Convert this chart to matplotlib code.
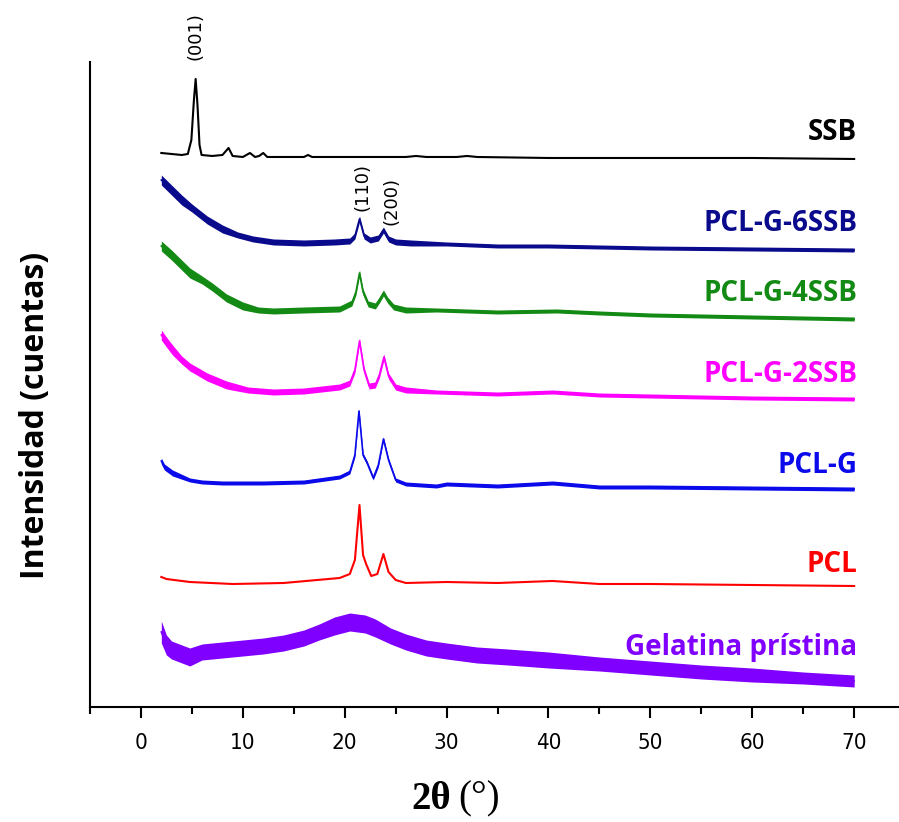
import matplotlib
matplotlib.use("Agg")
import matplotlib.pyplot as plt
from matplotlib.ticker import MultipleLocator

# ── data (2θ in °, intensity in arbitrary counts, stacked) ──
ssb_t = [2.0, 3.0, 4.0, 4.6, 4.95, 5.2, 5.37, 5.55, 5.75, 5.95, 7.0, 8.0, 8.6, 9.0,
         10.0, 10.7, 11.2, 11.6, 12.0, 12.4, 14.0, 16.0, 16.4, 16.8, 20.0, 23.0,
         26.0, 27.0, 28.0, 31.0, 32.0, 33.0, 40.0, 50.0, 60.0, 70.0]
ssb_i = [554, 553, 552, 553, 567, 607, 628, 602, 562, 552, 551, 552, 559, 551,
         550, 554, 550, 551, 554, 550, 550, 550, 552, 550, 550, 550,
         550, 551, 550, 550, 551, 550, 549, 549, 549, 548]

g6_t = [2.0, 2.5, 3.0, 4.0, 5.0, 6.5, 8.0, 9.5, 11.0, 13.0, 16.0, 19.0, 20.5, 21.0,
        21.45, 21.9, 22.5, 23.3, 23.8, 24.3, 25.0, 26.5, 30.0, 35.0, 40.0, 50.0,
        60.0, 70.0]
g6_i = [527, 522, 517, 507, 499, 487, 478, 472, 468, 465, 464, 465, 466, 471,
        488, 471, 467, 469, 477, 468, 465, 464, 463, 461, 461, 459,
        458, 457]
g6_n = [5, 5, 5, 5, 4, 4, 4, 3, 3, 3, 3, 3, 3, 3,
        3, 3, 3, 3, 3, 3, 3, 3, 2, 2, 2, 2, 2, 2]

g4_t = [2.0, 3.0, 4.0, 4.8, 6.0, 7.0, 8.4, 10.0, 11.5, 13.0, 16.0, 19.5, 20.7, 21.1,
        21.45, 21.8, 22.3, 23.0, 23.4, 23.8, 24.2, 24.8, 26.0, 29.0, 35.0, 40.8,
        45.0, 50.0, 60.0, 70.0]
g4_i = [461, 452, 442, 434, 427, 420, 409, 401, 397, 396, 397, 398, 404, 415,
        434, 415, 403, 401, 407, 414, 407, 400, 397, 397, 395, 396,
        394, 392, 390, 388]
g4_n = [5, 5, 5, 5, 4, 4, 4, 4, 3, 3, 3, 3, 3, 3,
        3, 3, 3, 3, 3, 3, 3, 3, 3, 2, 2, 2, 2, 2, 2, 2]

g2_t = [2.0, 2.5, 3.1, 4.0, 4.8, 6.5, 8.4, 10.5, 13.0, 16.0, 19.5, 20.5, 21.0, 21.45,
        21.9, 22.4, 23.0, 23.4, 23.85, 24.3, 25.0, 26.0, 29.0, 35.0, 40.4, 45.0,
        50.0, 60.0, 70.0]
g2_i = [372, 365, 357, 347, 340, 330, 322, 317, 315, 316, 320, 324, 337, 366,
        337, 321, 322, 332, 350, 331, 320, 317, 315, 313, 315, 312,
        311, 309, 308]
g2_n = [5, 5, 5, 4, 4, 4, 4, 3, 3, 3, 3, 3, 3, 3,
        3, 3, 3, 3, 3, 3, 3, 3, 2, 2, 2, 2, 2, 2, 2]

pg_t = [2.0, 2.3, 3.1, 4.8, 6.0, 8.0, 12.0, 16.0, 19.5, 20.5, 21.0, 21.4, 21.8, 22.2,
        22.8, 23.3, 23.8, 24.3, 25.0, 26.0, 29.0, 30.0, 35.0, 40.4, 45.0, 50.0,
        60.0, 70.0]
pg_i = [246, 240, 234, 227, 225, 224, 224, 225, 230, 235, 252, 296, 252, 244,
        229, 242, 268, 247, 227, 223, 221, 223, 221, 224, 220, 220,
        219, 218]
pg_n = [3, 3, 3, 2, 2, 2, 2, 2, 2, 2, 2, 2, 2, 2,
        2, 2, 2, 2, 2, 2, 2, 2, 2, 2, 2, 2, 2, 2]

pcl_t = [2.0, 2.5, 4.8, 9.0, 14.0, 19.5, 20.5, 21.0, 21.45, 21.8, 22.1, 22.6, 23.2,
         23.8, 24.3, 25.0, 26.0, 30.0, 35.0, 40.4, 45.0, 50.0, 60.0, 70.0]
pcl_i = [130, 128, 125, 123, 124, 129, 133, 147, 202, 152, 143, 131, 133,
         153, 135, 127, 124, 125, 124, 126, 123, 123, 122, 121]

gel_t = [2.0, 2.5, 3.0, 4.8, 6.0, 8.0, 10.0, 12.0, 14.0, 16.0, 17.5, 19.0, 20.5,
         22.0, 23.0, 24.5, 26.0, 28.0, 30.0, 33.0, 36.0, 40.0, 45.0, 50.0, 55.0,
         60.0, 65.0, 70.0]
gel_i = [75, 62, 57, 50, 55, 57, 59, 61, 64, 69, 75, 81, 85,
         83, 79, 71, 65, 59, 56, 52, 50, 47, 43, 39, 35,
         32, 29, 26]
gel_n = [11, 10, 9, 9, 8, 8, 8, 8, 8, 8, 8, 9, 9,
         9, 9, 8, 8, 8, 8, 8, 8, 8, 7, 7, 7, 7, 6, 6]

names = ["SSB", "PCL-G-6SSB", "PCL-G-4SSB", "PCL-G-2SSB", "PCL-G", "PCL",
         "Gelatina prístina"]
colors = ["#000000", "#0a0a8c", "#138a13", "#ff00ff", "#0a0aeb", "#ff0000",
          "#8000ff"]
label_y = [574, 483, 413, 332, 241, 142, 60]

# (hkl) labels: text, 2θ, height
hkl_text = ["(001)", "(110)", "(200)"]
hkl_t = [5.4, 21.7, 24.6]
hkl_y = [671, 520, 506]

curves = [(ssb_t, ssb_i, None), (g6_t, g6_i, g6_n), (g4_t, g4_i, g4_n),
          (g2_t, g2_i, g2_n), (pg_t, pg_i, pg_n), (pcl_t, pcl_i, None),
          (gel_t, gel_i, gel_n)]

# ── plot ─────────────────────────────────────────────────────────────────────
fig = plt.figure(figsize=(8.99, 8.22), dpi=100)
ax = fig.add_axes([0.1001, 0.1399, 0.8999, 0.7847])

for (tt, ii, nn), c in zip(curves, colors):
    if nn is None:
        ax.plot(tt, ii, color=c, lw=1.5, zorder=3)
    else:
        lo = [v - n for v, n in zip(ii, nn)]
        hi = [v + n for v, n in zip(ii, nn)]
        ax.fill_between(tt, lo, hi, color=c, lw=0, zorder=2)
        ax.plot(tt, ii, color=c, lw=1.2, zorder=3)

label_font = ["Open Sans", "DejaVu Sans"]
for name, c, y in zip(names, colors, label_y):
    ax.text(70.3, y, name, color=c, ha="right", va="center", fontsize=20,
            fontweight="bold", family=label_font)

for txt, t, y in zip(hkl_text, hkl_t, hkl_y):
    ax.text(t, y, txt, rotation=90, ha="center", va="center", fontsize=13,
            family="DejaVu Sans")

ax.set_xlim(-5, 74.4)
ax.set_ylim(0, 645)
ax.spines["top"].set_visible(False)
ax.spines["right"].set_visible(False)
for s in ("left", "bottom"):
    ax.spines[s].set_linewidth(1.5)
ax.set_yticks([])
ax.xaxis.set_major_locator(MultipleLocator(10))
ax.xaxis.set_minor_locator(MultipleLocator(5))
ax.set_xticks(range(0, 71, 10))
ax.tick_params(axis="x", which="major", direction="out", length=8, width=1.5,
               pad=11, labelsize=16)
ax.tick_params(axis="x", which="minor", direction="out", length=5, width=1.5)
for lab in ax.get_xticklabels():
    lab.set_family("DejaVu Sans")
    lab.set_stretch("condensed")

fig.text(0.039, 0.495, "Intensidad (cuentas)", rotation=90, ha="center",
         va="center", fontsize=23, fontweight="bold", family=label_font)
fig.text(0.502, 0.016, "2θ", ha="right", va="baseline", fontsize=28,
         fontweight="bold", family=["Liberation Serif", "DejaVu Serif"])
fig.text(0.510, 0.016, "(°)", ha="left", va="baseline", fontsize=28,
         family=["Liberation Serif", "DejaVu Serif"])

fig.savefig("out.png", dpi=100)
